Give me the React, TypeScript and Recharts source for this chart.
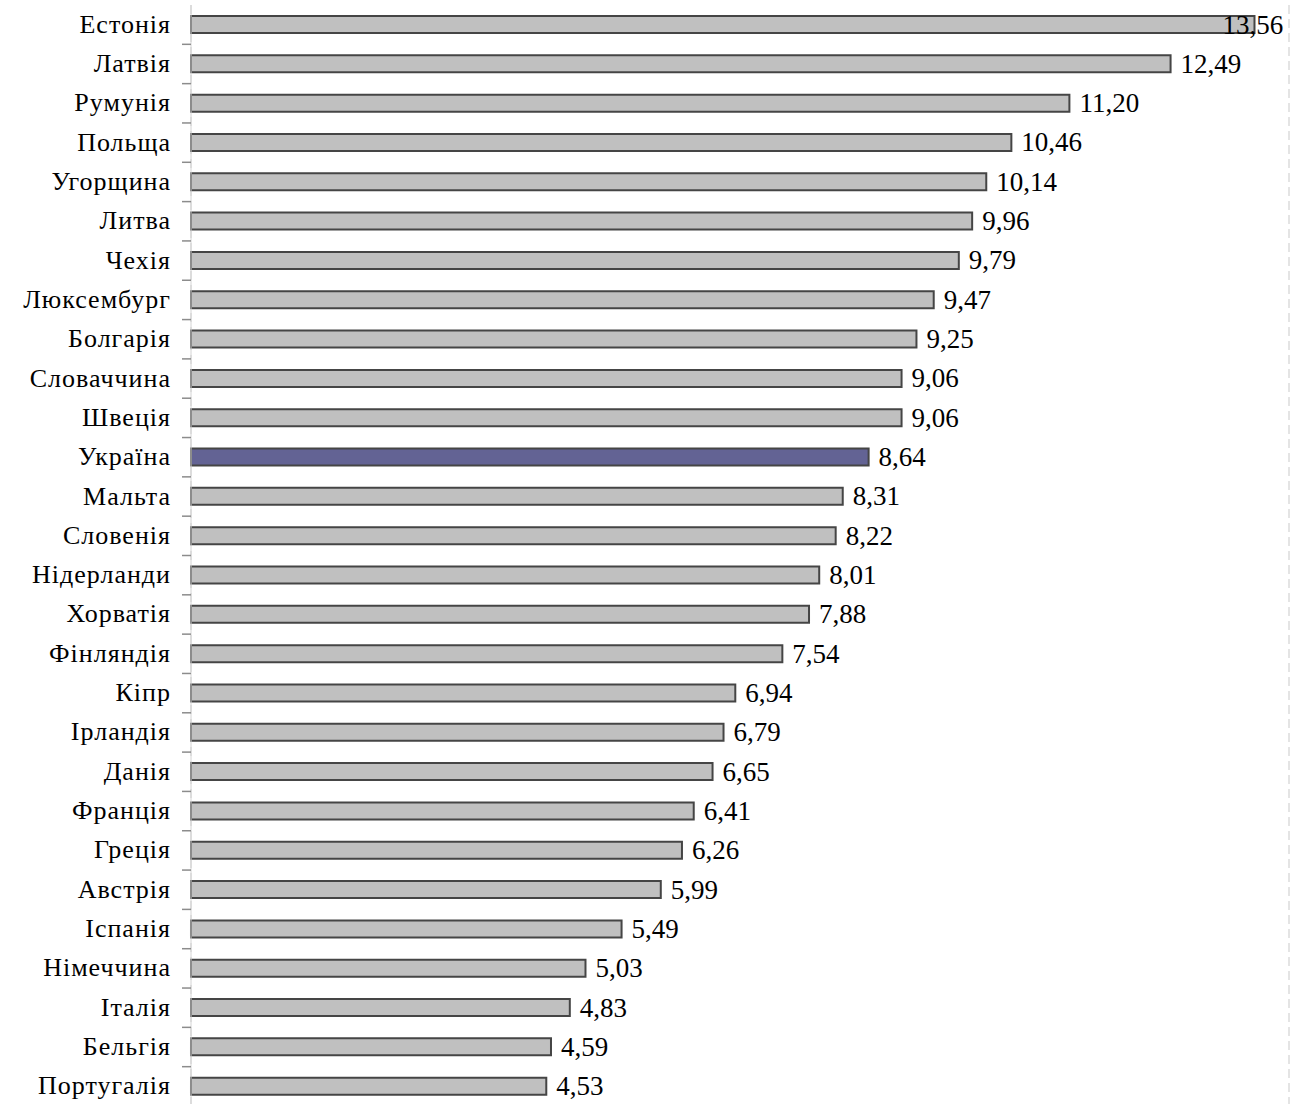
import React from "react";
import { Bar, BarChart, CartesianGrid, Cell, LabelList, XAxis, YAxis } from "recharts";

const countries = [
  "Естонія", "Латвія", "Румунія", "Польща", "Угорщина", "Литва", "Чехія",
  "Люксембург", "Болгарія", "Словаччина", "Швеція", "Україна", "Мальта",
  "Словенія", "Нідерланди", "Хорватія", "Фінляндія", "Кіпр", "Ірландія",
  "Данія", "Франція", "Греція", "Австрія", "Іспанія", "Німеччина", "Італія",
  "Бельгія", "Португалія",
];

const values = [
  13.56, 12.49, 11.2, 10.46, 10.14, 9.96, 9.79, 9.47, 9.25, 9.06, 9.06, 8.64,
  8.31, 8.22, 8.01, 7.88, 7.54, 6.94, 6.79, 6.65, 6.41, 6.26, 5.99, 5.49, 5.03,
  4.83, 4.59, 4.53,
];

const xTicks = [0, 2, 4, 6, 8, 10, 12, 14];
const highlight = "Україна";

const data = countries.map((name, i) => ({ name, value: values[i] }));

const W = 1305;
const H = 1106;
const M = { top: 5, right: 16, bottom: 0, left: 0 };
const Y_AXIS_W = 191;
const band = (H - M.top - M.bottom) / countries.length;
const plotRight = W - M.right;
const font = "'Liberation Serif', 'Times New Roman', serif";

const fmt = (v: number) => v.toFixed(2).replace(".", ",");

function CountryTick(props: any) {
  const { x, y, payload } = props;
  return (
    <g>
      <text x={x - 12} y={y} dy={8} textAnchor="end" fontFamily={font} fontSize={26} letterSpacing={1} fill="#000">
        {payload.value}
      </text>
      <line x1={x - 1} x2={x + 8} y1={y + band / 2} y2={y + band / 2} stroke="#8c8c8c" strokeWidth={1.5} />
    </g>
  );
}

function ValueLabel(props: any) {
  const { x, y, width, height, value } = props;
  const text = fmt(Number(value));
  const textW = text.length * 12.5;
  const lx = Math.min(x + width + 10, plotRight - textW - 4);
  return (
    <text x={lx} y={y + height / 2} dy={9} fontFamily={font} fontSize={27} fill="#000">
      {text}
    </text>
  );
}

export default function App() {
  return (
    <div style={{ width: W, height: 1104, overflow: "hidden", background: "#fff" }}>
      <style>{`body{margin:0}`}</style>
      <BarChart width={W} height={H} data={data} layout="vertical" margin={M} barSize={17}>
        <CartesianGrid horizontal={false} stroke="#e4e4e4" strokeWidth={2} strokeDasharray="9 5" />
        <XAxis type="number" domain={[0, 14]} ticks={xTicks} height={0} tick={false} axisLine={false} tickLine={false} />
        <YAxis
          type="category"
          dataKey="name"
          width={Y_AXIS_W}
          axisLine={{ stroke: "#d4d4d4", strokeWidth: 1 }}
          tickLine={false}
          tick={<CountryTick />}
          interval={0}
        />
        <Bar dataKey="value" stroke="#454545" strokeWidth={2} isAnimationActive={false}>
          {data.map((d) => (
            <Cell key={d.name} fill={d.name === highlight ? "#636394" : "#c0c0c0"} />
          ))}
          <LabelList dataKey="value" content={<ValueLabel />} />
        </Bar>
      </BarChart>
    </div>
  );
}
